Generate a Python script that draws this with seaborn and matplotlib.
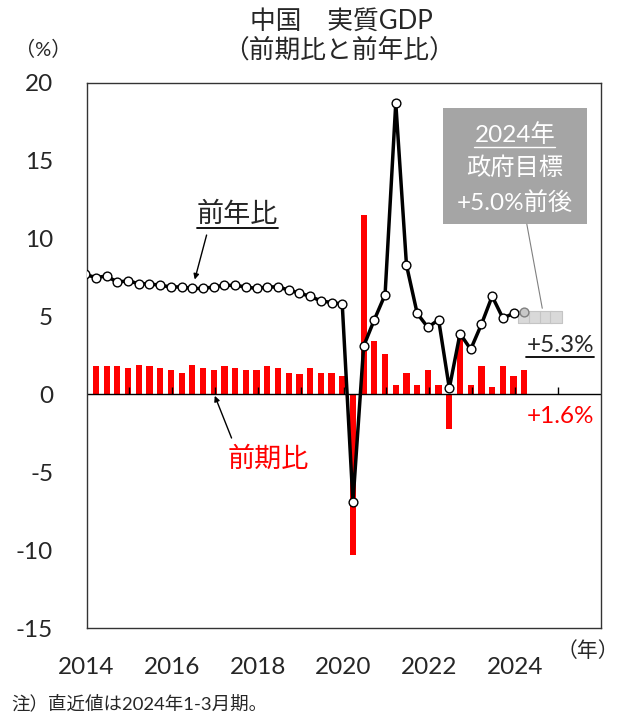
import pandas as pd
import seaborn as sns
import matplotlib.pyplot as plt
from matplotlib.lines import Line2D
from matplotlib.patches import Rectangle
from matplotlib.transforms import IdentityTransform

# 四半期データ (2013年10-12月期 ～ 2024年1-3月期)
anos = [2013] + [a for a in range(2014, 2024) for _ in range(4)] + [2024]
trimestres = [4] + [1, 2, 3, 4] * 10 + [1]

# 前年比 (%)
yoy = [7.7,
       7.5, 7.6, 7.2, 7.3,
       7.1, 7.1, 7.0, 6.9,
       6.9, 6.8, 6.8, 6.9,
       7.0, 7.0, 6.9, 6.8,
       6.9, 6.9, 6.7, 6.5,
       6.3, 6.0, 5.9, 5.8,
       -6.9, 3.1, 4.8, 6.4,
       18.7, 8.3, 5.2, 4.3,
       4.8, 0.4, 3.9, 2.9,
       4.5, 6.3, 4.9, 5.2,
       5.3]

# 前期比 (%)
qoq = [1.8,
       1.8, 1.8, 1.8, 1.7,
       1.9, 1.8, 1.7, 1.6,
       1.4, 1.9, 1.7, 1.6,
       1.8, 1.7, 1.6, 1.6,
       1.8, 1.7, 1.4, 1.3,
       1.7, 1.4, 1.4, 1.2,
       -10.3, 11.5, 3.4, 2.6,
       0.6, 1.4, 0.6, 1.6,
       0.6, -2.2, 3.7, 0.6,
       1.8, 0.5, 1.8, 1.2,
       1.6]

# 2024年 政府目標
meta_trimestres = [1, 2, 3, 4]
meta_valor = [5.0, 5.0, 5.0, 5.0]

anos_label = [2014, 2016, 2018, 2020, 2022, 2024]

df = pd.DataFrame({'ano': anos, 'tri': trimestres, 'yoy': yoy, 'qoq': qoq})
df['x'] = df['ano'] + df['tri'] / 4 - 0.03
df_meta = pd.DataFrame({'x': [2024 + t / 4 - 0.03 for t in meta_trimestres], 'y': meta_valor})

sns.set_style('white')
plt.rcParams['font.family'] = ['Lato', 'Noto Sans CJK JP']
plt.rcParams['axes.unicode_minus'] = False

fig = plt.figure(figsize=(6.18, 7.15), dpi=100)
ax = fig.add_axes([0.140, 0.1213, 0.8317, 0.763])

# 前期比 (棒)
sns.barplot(data=df, x='x', y='qoq', native_scale=True, width=0.58, color='#ff0000',
            saturation=1, errorbar=None, ax=ax, zorder=2, linewidth=0)

# ゼロ線と年の目盛
ax.axhline(0, color='black', lw=1, zorder=2.5)
ax.vlines(range(2015, 2026), 0, 0.45, color='black', lw=1, zorder=2.5)

# 目標の四角
sns.scatterplot(data=df_meta, x='x', y='y', marker='s', s=64, color='#d9d9d9',
                edgecolor='#c4c4c4', linewidth=0.8, ax=ax, zorder=2.6)

# 前年比 (線)
sns.lineplot(data=df.iloc[-2:], x='x', y='yoy', color='#9a9a9a', lw=2.5, ax=ax, zorder=2.8)
sns.lineplot(data=df.iloc[:-1], x='x', y='yoy', color='black', lw=2.5, marker='o',
             markersize=6.3, markerfacecolor='white', markeredgecolor='black',
             markeredgewidth=1, ax=ax, zorder=3)
sns.scatterplot(data=df.iloc[-1:], x='x', y='yoy', s=40, color='#c8c8c8',
                edgecolor='#808080', linewidth=1, ax=ax, zorder=3.1)

ax.set_xlim(2014, 2026)
ax.set_ylim(-15, 20)
ax.set_yticks(range(-15, 25, 5))
ax.set_xticks(anos_label)
ax.set_xticklabels([str(a) for a in anos_label])
ax.set_xlabel('')
ax.set_ylabel('')
ax.tick_params(axis='x', length=0, pad=20.5, labelsize=17.5)
ax.tick_params(axis='y', direction='in', length=6.5, color='#808080', width=1, pad=24, labelsize=17.5)
for s in ax.spines.values():
    s.set_visible(True)
    s.set_color('#333333')
    s.set_linewidth(1)

# タイトルなど
fig.text(0.552, 0.970, '中国　実質GDP', ha='center', va='center', fontsize=18.5)
fig.text(0.549, 0.930, '（前期比と前年比）', ha='center', va='center', fontsize=18.5)
fig.text(0.070, 0.931, '（%）', ha='center', va='center', fontsize=14.5)
fig.text(0.951, 0.0895, '（年）', ha='center', va='center', fontsize=15)
fig.text(0.019, 0.0168, '注）直近値は2024年1-3月期。', ha='left', va='center', fontsize=13.3)

t_yoy = ax.text(2017.53, 11.58, '前年比', ha='center', va='center', fontsize=19.5, zorder=5)
ax.annotate('', xy=(2016.51, 7.2), xytext=(2016.82, 10.4),
            arrowprops=dict(arrowstyle='-|>', color='black', lw=1, mutation_scale=8))
ax.text(2018.24, -4.17, '前期比', ha='center', va='center', fontsize=19.5, color='#ff0000', zorder=5)
ax.annotate('', xy=(2016.97, 0.08), xytext=(2017.41, -2.96),
            arrowprops=dict(arrowstyle='-|>', color='black', lw=1, mutation_scale=8))

# 政府目標の箱
ax.add_patch(Rectangle((2022.32, 10.92), 3.37, 7.44, facecolor='#a5a5a5', edgecolor='none', zorder=4))
t_box = ax.text(2024.0, 16.69, '2024年', ha='center', va='center', fontsize=17.5, color='white', zorder=5)
ax.text(2024.0, 14.55, '政府目標', ha='center', va='center', fontsize=17.5, color='white', zorder=5)
ax.text(2024.0, 12.33, '+5.0%前後', ha='center', va='center', fontsize=17.5, color='white', zorder=5)
ax.plot([2024.28, 2024.64], [10.92, 5.53], color='#808080', lw=0.8, zorder=4)

t_53 = ax.text(2025.06, 3.17, '+5.3%', ha='center', va='center', fontsize=17.5, zorder=5)
ax.text(2025.06, -1.44, '+1.6%', ha='center', va='center', fontsize=17.5, color='#ff0000', zorder=5)


def sublinhar(t, cor, lw=1.3, gap=1.5):
    fig.canvas.draw()
    bb = t.get_window_extent()
    y = bb.y0 - gap
    fig.add_artist(Line2D([bb.x0, bb.x1], [y, y], transform=IdentityTransform(), color=cor, lw=lw, zorder=6))


sublinhar(t_yoy, 'black')
sublinhar(t_box, 'white', lw=1.0)
sublinhar(t_53, 'black')

fig.savefig('out.png', dpi=100)
